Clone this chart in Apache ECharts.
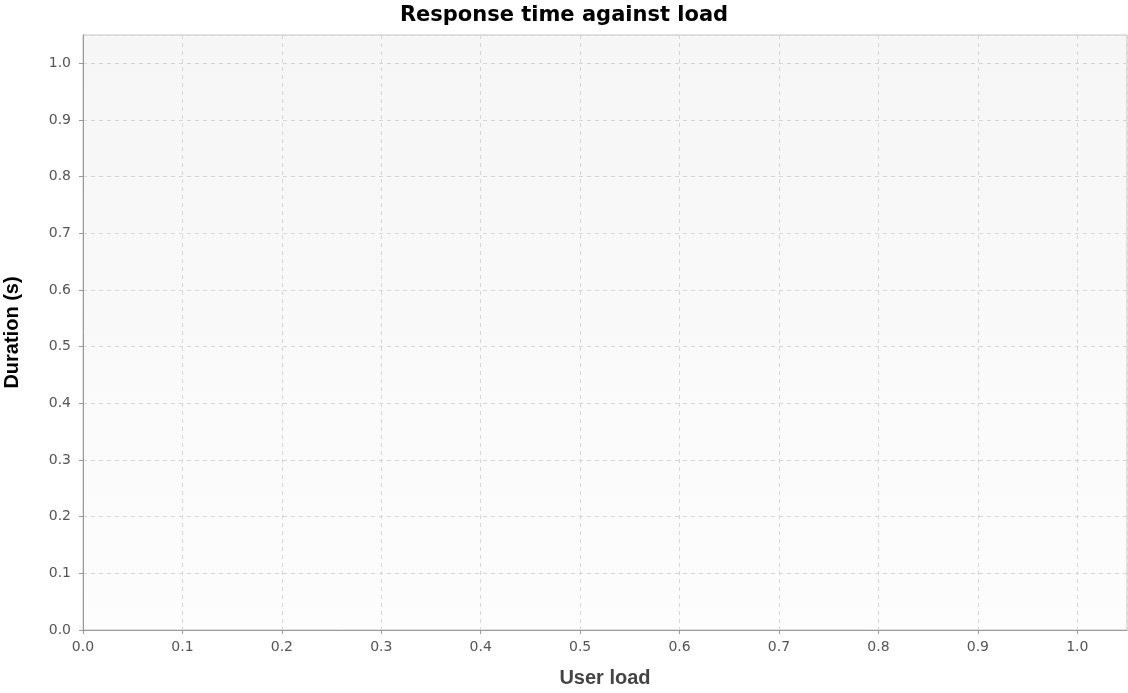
<!DOCTYPE html>
<html><head><meta charset="utf-8">
<script src="https://cdn.jsdelivr.net/npm/echarts@6/dist/echarts.min.js"></script>
<style>html,body{margin:0;padding:0;background:#fff}#c{width:1128px;height:693px}</style>
</head><body><div id="c"></div>
<script>
const titleText = 'Response time against load';
const xName = 'User load';
const yName = 'Duration (s)';
const userLoad = [];
const duration = [];
const xMin = 0, xMax = 1.05, yMin = 0, yMax = 1.05, step = 0.1;

const chart = echarts.init(document.getElementById('c'));
const font = 'DejaVu Sans';
const nameFont = 'Liberation Sans';
chart.setOption({
  animation: false,
  backgroundColor: '#ffffff',
  title: { text: titleText, left: 'center', top: 0,
    textStyle: { fontFamily: font, fontWeight: 'bold', fontSize: 21, color: '#000' } },
  grid: { left: 83, right: 1, top: 35, bottom: 63, show: true, borderWidth: 1, borderColor: '#c4c4c4',
    outerBoundsMode: 'none', containLabel: false,
    backgroundColor: new echarts.graphic.LinearGradient(0, 0, 0, 1, [{offset: 0, color: '#f6f6f6'}, {offset: 1, color: '#fdfdfd'}]) },
  xAxis: { type: 'value', min: xMin, max: xMax, interval: step, name: xName, nameLocation: 'middle', nameGap: 38,
    nameTextStyle: { fontFamily: nameFont, fontWeight: 'bold', fontSize: 20, color: '#444' },
    axisLine: { show: true, onZero: false, lineStyle: { color: '#9a9a9a' } },
    axisTick: { show: true, length: 4, lineStyle: { color: '#9a9a9a' } },
    axisLabel: { fontFamily: font, fontSize: 14, color: '#555', margin: 10, formatter: v => v.toFixed(1), showMaxLabel: false },
    splitLine: { show: true, lineStyle: { color: '#d6d6d6', type: [4, 4] } } },
  yAxis: { type: 'value', min: yMin, max: yMax, interval: step, name: yName, nameLocation: 'middle', nameGap: 61,
    nameTextStyle: { fontFamily: nameFont, fontWeight: 'bold', fontSize: 20, color: '#000' },
    axisLine: { show: true, onZero: false, lineStyle: { color: '#9a9a9a' } },
    axisTick: { show: true, length: 4, lineStyle: { color: '#9a9a9a' } },
    axisLabel: { fontFamily: font, fontSize: 14, color: '#555', margin: 12, formatter: v => v.toFixed(1), showMaxLabel: false },
    splitLine: { show: true, lineStyle: { color: '#d6d6d6', type: [4, 4] } } },
  series: [{ type: 'line', data: userLoad.map((x, i) => [x, duration[i]]) }]
});
</script></body></html>
